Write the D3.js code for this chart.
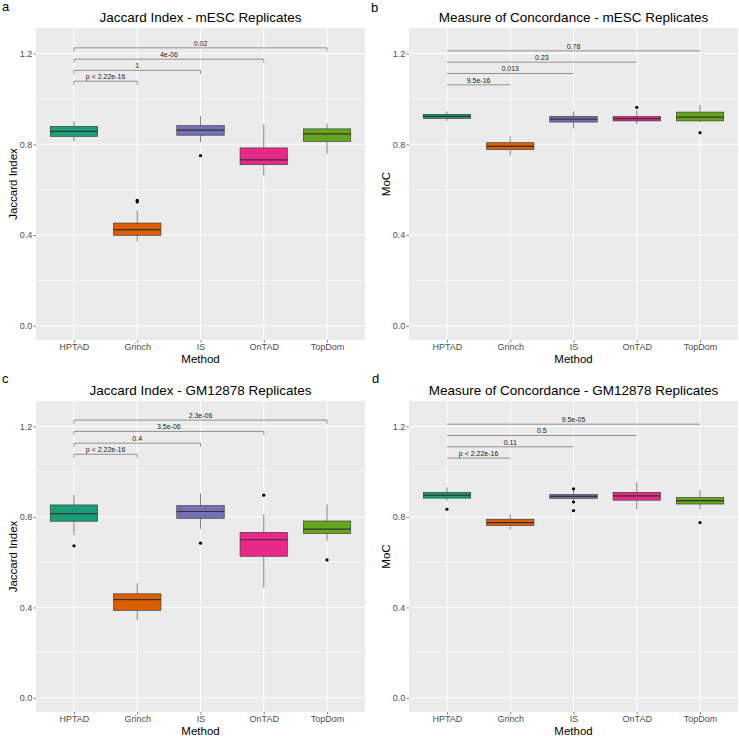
<!DOCTYPE html>
<html><head><meta charset="utf-8">
<script src="https://cdn.jsdelivr.net/npm/d3@7"></script>
<style>
html,body{margin:0;padding:0;background:#fff;}
svg{display:block;font-family:"Liberation Sans",Arial,sans-serif;}
</style></head>
<body>
<svg id="chart" width="739" height="736"></svg>
<script>
// ---------- data ----------
const methods = ["HPTAD","Grinch","IS","OnTAD","TopDom"];
const palette = ["#1B9E77","#D95F02","#7570B3","#E7298A","#66A61E"];
const yTicks = [0.0, 0.4, 0.8, 1.2];
const yMinorTicks = [0.2, 0.6, 1.0];
const yLimits = [0, 1.25];

// box stats: [lower whisker, Q1, median, Q3, upper whisker]
const jaccardMescStats = [
  [0.813,0.835,0.857,0.879,0.901],
  [0.372,0.399,0.424,0.453,0.509],
  [0.809,0.840,0.862,0.882,0.924],
  [0.663,0.710,0.731,0.784,0.887],
  [0.759,0.813,0.846,0.868,0.891]];
const jaccardMescOutliers = [[],[0.553,0.546],[0.750],[],[]];

const mocMescStats = [
  [0.903,0.914,0.923,0.932,0.944],
  [0.750,0.777,0.791,0.807,0.835],
  [0.870,0.898,0.911,0.923,0.945],
  [0.888,0.903,0.913,0.923,0.950],
  [0.897,0.903,0.920,0.942,0.973]];
const mocMescOutliers = [[],[],[],[0.963],[0.851]];

const jaccardGmStats = [
  [0.719,0.781,0.815,0.853,0.897],
  [0.344,0.387,0.434,0.460,0.506],
  [0.747,0.794,0.824,0.850,0.904],
  [0.488,0.626,0.699,0.732,0.812],
  [0.694,0.726,0.746,0.782,0.856]];
const jaccardGmOutliers = [[0.672],[],[0.684],[0.896],[0.610]];

const mocGmStats = [
  [0.872,0.883,0.896,0.909,0.930],
  [0.743,0.762,0.775,0.790,0.812],
  [0.872,0.882,0.891,0.899,0.918],
  [0.834,0.874,0.893,0.909,0.955],
  [0.834,0.857,0.872,0.886,0.918]];
const mocGmOutliers = [[0.834],[],[0.924,0.866,0.828],[],[0.775]];

// comparisons HPTAD vs each other method
const compareTargets = ["Grinch","IS","OnTAD","TopDom"];
const jaccardMescP = ["p < 2.22e-16","1","4e-06","0.02"];
const mocMescP = ["9.5e-16","0.013","0.23","0.78"];
const jaccardGmP = ["p < 2.22e-16","0.4","3.5e-06","2.3e-06"];
const mocGmP = ["p < 2.22e-16","0.11","0.5","9.5e-05"];
const jaccardMescBracketY = [1.078,1.126,1.175,1.225];
const mocMescBracketY = [1.062,1.112,1.162,1.212];
const jaccardGmBracketY = [1.077,1.126,1.178,1.228];
const mocGmBracketY = [1.060,1.110,1.160,1.210];

// ---------- layout ----------
const panels = [
  {letter:"a", lx:2, ly:11, title:"Jaccard Index - mESC Replicates", ytitle:"Jaccard Index", ytx:17,
   L:36, R:365, T:28, B:340, stats:jaccardMescStats, out:jaccardMescOutliers, p:jaccardMescP, by:jaccardMescBracketY, tip:0.016},
  {letter:"b", lx:371, ly:11.5, title:"Measure of Concordance - mESC Replicates", ytitle:"MoC", ytx:389.5,
   L:409, R:738, T:28, B:340, stats:mocMescStats, out:mocMescOutliers, p:mocMescP, by:mocMescBracketY, tip:0},
  {letter:"c", lx:2, ly:383, title:"Jaccard Index - GM12878 Replicates", ytitle:"Jaccard Index", ytx:17,
   L:36, R:365, T:401, B:712, stats:jaccardGmStats, out:jaccardGmOutliers, p:jaccardGmP, by:jaccardGmBracketY, tip:0.016},
  {letter:"d", lx:372, ly:383, title:"Measure of Concordance - GM12878 Replicates", ytitle:"MoC", ytx:389.5,
   L:409, R:738, T:401, B:712, stats:mocGmStats, out:mocGmOutliers, p:mocGmP, by:mocGmBracketY, tip:0}
];

const svg = d3.select("#chart");

panels.forEach(pn => {
  const g = svg.append("g");
  const pad = (yLimits[1]-yLimits[0])*0.05;
  const y = d3.scaleLinear().domain([yLimits[0]-pad, yLimits[1]+pad]).range([pn.B, pn.T]);
  const x = d3.scalePoint().domain(methods).range([pn.L, pn.R]).padding(0.6);
  const bw = x.step()*0.75;

  // background
  g.append("rect").attr("x",pn.L).attr("y",pn.T).attr("width",pn.R-pn.L).attr("height",pn.B-pn.T).attr("fill","#EBEBEB");
  // minor grid
  g.selectAll(".ymin").data(yMinorTicks).enter().append("line")
    .attr("x1",pn.L).attr("x2",pn.R).attr("y1",d=>y(d)).attr("y2",d=>y(d))
    .attr("stroke","#fff").attr("stroke-width",0.5);
  // major grid
  g.selectAll(".ymaj").data(yTicks).enter().append("line")
    .attr("x1",pn.L).attr("x2",pn.R).attr("y1",d=>y(d)).attr("y2",d=>y(d))
    .attr("stroke","#fff").attr("stroke-width",1);
  g.selectAll(".xmaj").data(methods).enter().append("line")
    .attr("x1",d=>x(d)).attr("x2",d=>x(d)).attr("y1",pn.T).attr("y2",pn.B)
    .attr("stroke","#fff").attr("stroke-width",1);

  // axes
  const ya = g.append("g").attr("transform",`translate(${pn.L},0)`)
    .call(d3.axisLeft(y).tickValues(yTicks).tickFormat(d3.format(".1f")).tickSize(2.5).tickPadding(1.2));
  ya.select(".domain").remove();
  ya.selectAll(".tick line").attr("stroke","#333333").attr("stroke-width",0.6);
  ya.selectAll(".tick text").attr("fill","#4D4D4D").style("font-size","9px").style("font-family","Liberation Sans, Arial, sans-serif");

  const xa = g.append("g").attr("transform",`translate(0,${pn.B})`)
    .call(d3.axisBottom(x).tickSize(2.5).tickPadding(1.5));
  xa.select(".domain").remove();
  xa.selectAll(".tick line").attr("stroke","#333333").attr("stroke-width",0.6);
  xa.selectAll(".tick text").attr("fill","#4D4D4D").style("font-size","9px").style("font-family","Liberation Sans, Arial, sans-serif");

  // boxes
  const bg = g.append("g");
  methods.forEach((m,i) => {
    const s = pn.stats[i];
    const cx = x(m);
    bg.append("line").attr("x1",cx).attr("x2",cx).attr("y1",y(s[4])).attr("y2",y(s[3]))
      .attr("stroke","#333333").attr("stroke-width",0.6);
    bg.append("line").attr("x1",cx).attr("x2",cx).attr("y1",y(s[1])).attr("y2",y(s[0]))
      .attr("stroke","#333333").attr("stroke-width",0.6);
    bg.append("rect").attr("x",cx-bw/2).attr("width",bw)
      .attr("y",y(s[3])).attr("height",y(s[1])-y(s[3]))
      .attr("fill",palette[i]).attr("stroke","#333333").attr("stroke-width",0.6);
    bg.append("line").attr("x1",cx-bw/2).attr("x2",cx+bw/2).attr("y1",y(s[2])).attr("y2",y(s[2]))
      .attr("stroke","#333333").attr("stroke-width",1.2);
    pn.out[i].forEach(v => {
      bg.append("circle").attr("cx",cx).attr("cy",y(v)).attr("r",1.6).attr("fill","#000");
    });
  });

  // brackets
  const brg = g.append("g");
  compareTargets.forEach((t,k) => {
    const x1 = x(methods[0]), x2 = x(t), yy = y(pn.by[k]), yt = y(pn.by[k]-pn.tip);
    brg.append("path").attr("d",`M${x1},${yt}L${x1},${yy}L${x2},${yy}L${x2},${yt}`)
      .attr("fill","none").attr("stroke","#555").attr("stroke-width",0.6);
    brg.append("text").attr("x",(x1+x2)/2).attr("y",yy-2.3).attr("text-anchor","middle")
      .style("font-size","7px").attr("fill","#222").text(pn.p[k]);
  });

  // titles
  g.append("text").attr("x",(pn.L+pn.R)/2).attr("y",pn.T-6.5).attr("text-anchor","middle")
    .style("font-size","13.5px").attr("fill","#000").text(pn.title);
  g.append("text").attr("x",(pn.L+pn.R)/2).attr("y",pn.B+22.7).attr("text-anchor","middle")
    .style("font-size","11.5px").attr("fill","#000").text("Method");
  g.append("text").attr("transform",`translate(${pn.ytx},${(pn.T+pn.B)/2}) rotate(-90)`)
    .attr("text-anchor","middle").style("font-size","11.5px").attr("fill","#000").text(pn.ytitle);
  g.append("text").attr("x",pn.lx).attr("y",pn.ly).style("font-size","13px").attr("fill","#000").text(pn.letter);
});
</script>
</body></html>
